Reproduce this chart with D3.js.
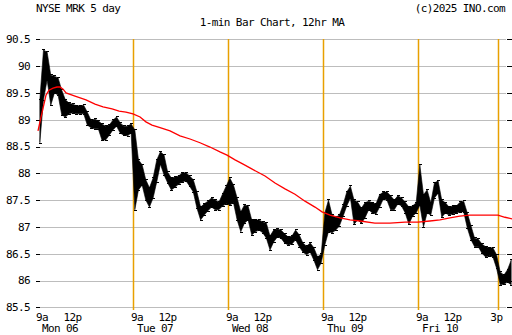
<!DOCTYPE html>
<html>
<head>
<meta charset="utf-8">
<script src="https://cdn.jsdelivr.net/npm/d3@7"></script>
<style>
  body { margin: 0; background: #fff; }
  text { font-family: "DejaVu Sans Mono", monospace; font-size: 11px; letter-spacing: -0.6px; fill: #000; }
</style>
</head>
<body>
<div id="chart"></div>
<script>
// 15-minute high / low ranges, 26 per session (9:30 - 16:00)
const highs = [
  // Mon 06
  89.37, 90.30, 90.26, 89.83, 89.81, 89.78, 89.55, 89.37, 89.31, 89.29, 89.26, 89.26, 89.27,
  89.14, 88.99, 89.01, 88.98, 88.92, 88.88, 88.90, 88.99, 89.05, 88.94, 88.88, 88.88, 88.92,
  // Tue 07
  88.81, 88.25, 88.16, 87.88, 87.73, 87.91, 88.25, 88.40, 88.34, 88.02, 87.91, 87.93, 87.95,
  88.01, 88.01, 87.95, 87.88, 87.65, 87.37, 87.43, 87.48, 87.54, 87.50, 87.46, 87.61, 87.76,
  // Wed 08
  87.91, 87.78, 87.54, 87.28, 87.41, 87.39, 87.13, 87.13, 87.13, 87.09, 87.07, 86.83, 86.94,
  86.96, 86.94, 86.87, 86.81, 86.83, 86.94, 86.85, 86.70, 86.64, 86.70, 86.61, 86.44, 86.49,
  // Thu 09
  87.26, 87.50, 87.22, 87.18, 87.22, 87.41, 87.65, 87.76, 87.50, 87.46, 87.35, 87.45, 87.48,
  87.45, 87.43, 87.60, 87.65, 87.65, 87.58, 87.50, 87.58, 87.54, 87.46, 87.37, 87.39, 87.45,
  // Fri 10
  88.16, 87.60, 87.69, 87.45, 87.82, 87.86, 87.50, 87.45, 87.37, 87.39, 87.39, 87.46, 87.48,
  87.26, 87.02, 86.79, 86.77, 86.68, 86.63, 86.61, 86.61, 86.48, 86.16, 86.10, 86.20, 86.38
];
const lows = [
  // Mon 06
  88.57, 89.37, 89.74, 89.27, 89.50, 89.46, 89.09, 89.05, 89.11, 89.13, 89.11, 89.11, 89.11,
  88.90, 88.85, 88.83, 88.83, 88.62, 88.62, 88.71, 88.81, 88.88, 88.75, 88.71, 88.70, 88.75,
  // Tue 07
  87.32, 87.69, 87.78, 87.50, 87.37, 87.54, 87.84, 88.17, 87.97, 87.82, 87.69, 87.74, 87.80,
  87.84, 87.86, 87.76, 87.65, 87.35, 87.13, 87.22, 87.30, 87.37, 87.32, 87.32, 87.39, 87.43,
  // Wed 08
  87.41, 87.45, 87.13, 86.91, 87.07, 87.13, 86.85, 86.91, 86.94, 86.89, 86.79, 86.57, 86.72,
  86.81, 86.79, 86.70, 86.66, 86.68, 86.76, 86.63, 86.53, 86.48, 86.53, 86.38, 86.20, 86.33,
  // Thu 09
  86.66, 86.91, 86.89, 86.94, 87.02, 87.20, 87.39, 87.54, 87.05, 87.13, 87.07, 87.17, 87.32,
  87.26, 87.24, 87.37, 87.52, 87.50, 87.32, 87.32, 87.43, 87.39, 87.26, 87.05, 87.20, 87.26,
  // Fri 10
  87.41, 87.00, 87.26, 87.22, 87.54, 87.63, 87.18, 87.26, 87.22, 87.24, 87.26, 87.28, 87.28,
  86.98, 86.76, 86.63, 86.63, 86.51, 86.44, 86.46, 86.44, 86.23, 85.92, 85.93, 85.97, 85.92
];

// 12hr moving average (minutes from Mon open, price)
const maMinutes = [0, 8, 21, 33, 45, 62, 78, 90, 103, 115, 152, 197, 234, 267, 304, 333, 361, 390, 419,
  443, 468, 501, 542, 583, 624, 665, 706, 747, 776, 809, 842, 870, 903, 932, 973, 1014, 1055, 1096,
  1137, 1166, 1199, 1240, 1281, 1322, 1383, 1445, 1507, 1560, 1609, 1650, 1691, 1732, 1773, 1835,
  1888, 1917, 1946];
const maValues = [88.79, 88.96, 89.22, 89.46, 89.55, 89.59, 89.61, 89.61, 89.57, 89.50, 89.44, 89.37,
  89.29, 89.24, 89.20, 89.16, 89.14, 89.11, 89.05, 88.96, 88.90, 88.85, 88.79, 88.70, 88.64, 88.57,
  88.49, 88.40, 88.34, 88.25, 88.17, 88.10, 88.02, 87.95, 87.82, 87.71, 87.61, 87.48, 87.37, 87.28,
  87.22, 87.17, 87.13, 87.11, 87.07, 87.07, 87.09, 87.09, 87.11, 87.13, 87.17, 87.20, 87.22, 87.22,
  87.22, 87.18, 87.15];

const yTicks = [85.5, 86, 86.5, 87, 87.5, 88, 88.5, 89, 89.5, 90, 90.5];
const dayLabels = ["Mon 06", "Tue 07", "Wed 08", "Thu 09", "Fri 10"];
const tickMinutes = [0, 150, 390, 540, 780, 930, 1170, 1320, 1560, 1710, 1890];
const tickLabels = ["9a", "12p", "9a", "12p", "9a", "12p", "9a", "12p", "9a", "12p", "3p"];
const markerMinutes = [390, 780, 1170, 1560, 1890];   // orange session lines

const sessionLen = 390, barLen = 15;

var width = 512;
var height = 335;

var svg = d3.select("#chart")
    .append("svg")
    .attr("width", width)
    .attr("height", height);

var x = d3.scaleLinear().domain([0, 5 * sessionLen]).range([38, 513]);
var y = d3.scaleLinear().domain([85.5, 90.5]).range([307.3, 39.3]);

// titles
svg.append("text").attr("x", 36).attr("y", 12).text("NYSE MRK 5 day");
svg.append("text").attr("x", 505).attr("y", 12).attr("text-anchor", "end").text("(c)2025 INO.com");
svg.append("text").attr("x", 272).attr("y", 26).attr("text-anchor", "middle").text("1-min Bar Chart, 12hr MA");

// horizontal grid + ticks both sides
var grid = svg.append("g").attr("shape-rendering", "crispEdges");
yTicks.forEach(function (v) {
    var yy = Math.round(y(v)) + 0.5;
    grid.append("line").attr("x1", 40).attr("x2", 506).attr("y1", yy).attr("y2", yy)
        .attr("stroke", "#bdbdbd");
    grid.append("line").attr("x1", 36).attr("x2", 40).attr("y1", yy).attr("y2", yy).attr("stroke", "#000");
    grid.append("line").attr("x1", 507).attr("x2", 512).attr("y1", yy).attr("y2", yy).attr("stroke", "#000");
    svg.append("text").attr("x", 30).attr("y", y(v)).attr("dy", "0.35em")
        .attr("text-anchor", "end").text(String(v));
});

// orange session lines
svg.append("g")
    .selectAll("line")
    .data(markerMinutes)
    .join("line")
    .attr("x1", d => Math.round(x(d)) + 0.5)
    .attr("x2", d => Math.round(x(d)) + 0.5)
    .attr("y1", 39)
    .attr("y2", 310)
    .attr("stroke", "#e8a000")
    .attr("stroke-width", 1.5);

// price bars
var bars = highs.map(function (h, i) {
    return { t: i * barLen + barLen / 2, hi: h, lo: lows[i] };
});

var area = d3.area()
    .x(d => x(d.t))
    .y0(d => y(d.lo))
    .y1(d => y(d.hi));

svg.append("path")
    .datum(bars)
    .attr("d", area)
    .attr("fill", "#000")
    .attr("stroke", "#000")
    .attr("stroke-width", 0.6);

// little bar ticks at each high / low to roughen the band edges
var ticks = svg.append("g").attr("stroke", "#000").attr("shape-rendering", "crispEdges");
bars.forEach(function (d) {
    var cx = Math.round(x(d.t));
    ticks.append("line").attr("x1", cx - 1.5).attr("x2", cx + 1.5)
        .attr("y1", Math.round(y(d.hi)) - 0.5).attr("y2", Math.round(y(d.hi)) - 0.5);
    ticks.append("line").attr("x1", cx - 1.5).attr("x2", cx + 1.5)
        .attr("y1", Math.round(y(d.lo)) + 0.5).attr("y2", Math.round(y(d.lo)) + 0.5);
});

// moving average
var ma = maMinutes.map((m, i) => [m, maValues[i]]);
svg.append("path")
    .datum(ma)
    .attr("d", d3.line().x(d => x(d[0])).y(d => y(d[1])))
    .attr("fill", "none")
    .attr("stroke", "#ff0000")
    .attr("stroke-width", 1.3);

// x axis labels
tickMinutes.forEach(function (m, i) {
    var lbl = tickLabels[i];
    svg.append("text")
        .attr("x", x(m) - 2)
        .attr("y", 321)
        .attr("text-anchor", lbl == "9a" ? "start" : "middle")
        .text(lbl);
});
dayLabels.forEach(function (d, i) {
    svg.append("text").attr("x", x(i * sessionLen) + 4).attr("y", 332).text(d);
});
</script>
</body>
</html>
